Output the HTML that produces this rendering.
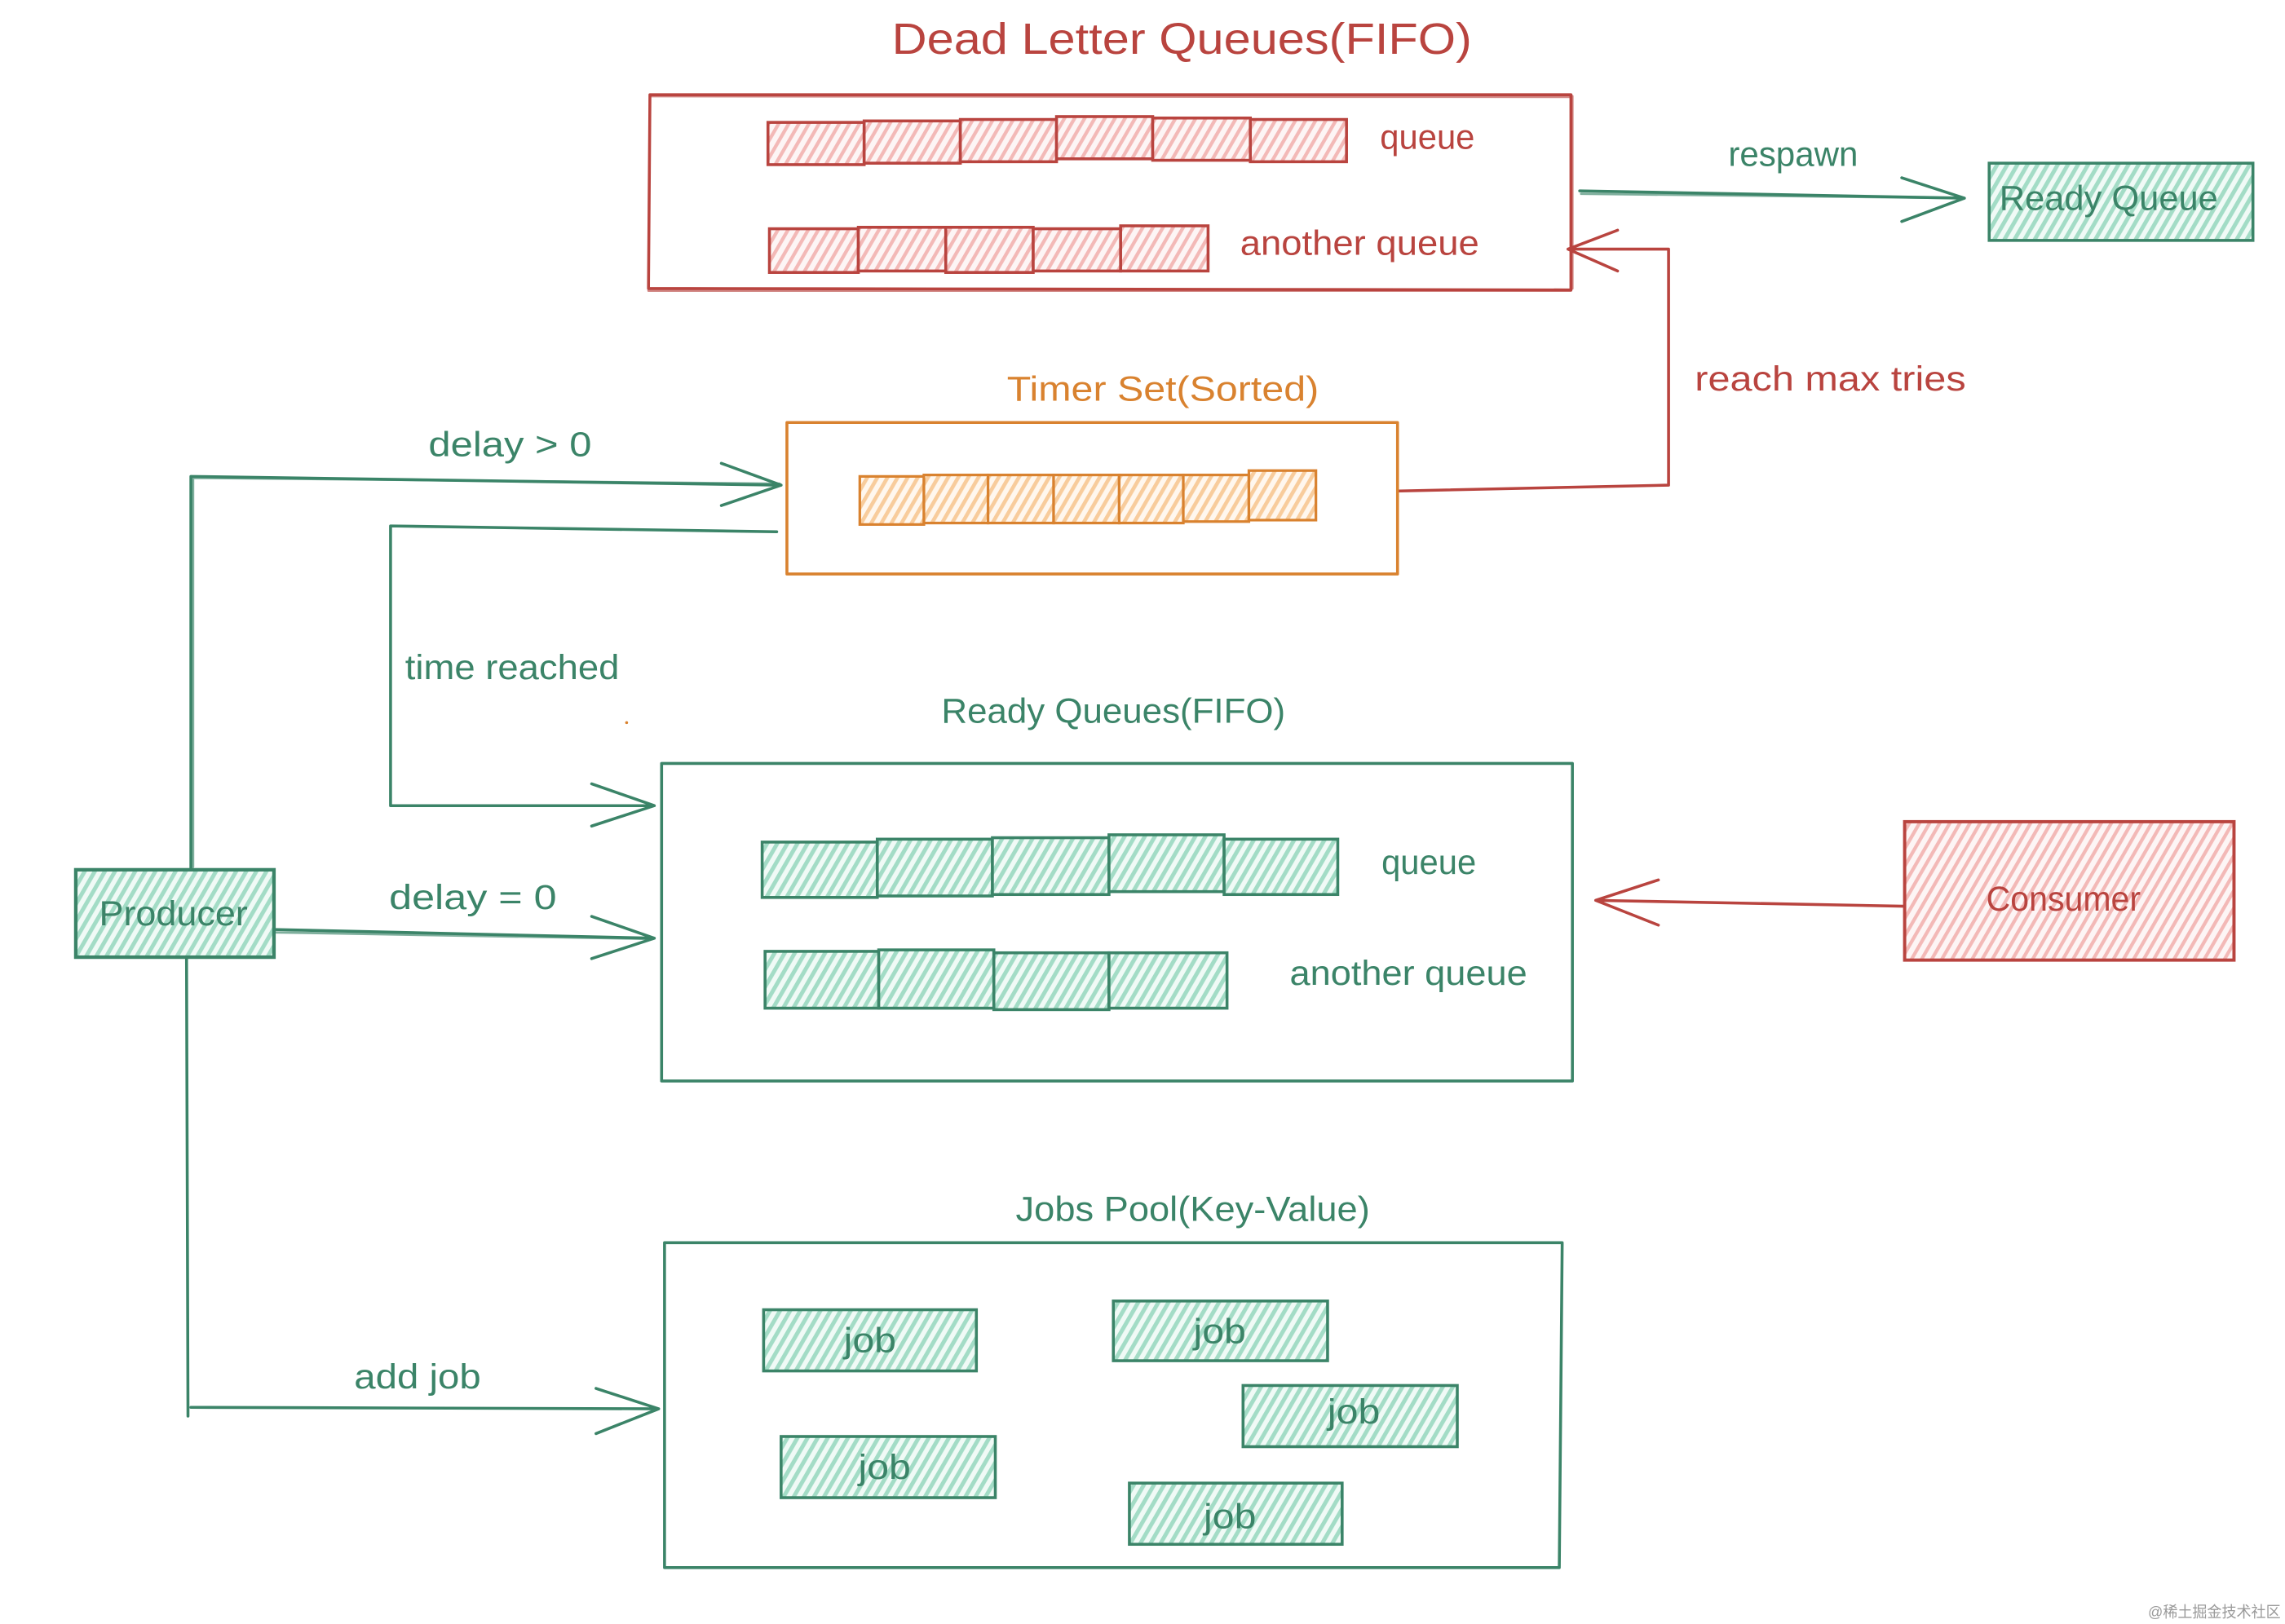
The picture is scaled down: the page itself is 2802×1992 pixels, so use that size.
<!DOCTYPE html>
<html>
<head>
<meta charset="utf-8">
<style>
html,body{margin:0;padding:0;background:#fff}
svg{display:block}
text{font-family:"Liberation Sans","Noto Sans CJK SC",sans-serif;font-size:24px}
.r{fill:#b9443f}.g{fill:#3b8468}.o{fill:#d9822f}
.lr,.lg,.lo{fill:none;stroke-linecap:round;stroke-linejoin:round}
.lr{stroke:#b9443f}.lg{stroke:#3b8468}.lo{stroke:#d9822f}
.b{stroke-width:2}.t{stroke-width:1.6;opacity:.65}
</style>
</head>
<body>
<svg width="2802" height="1992" viewBox="0 0 1568 1114.7" xmlns="http://www.w3.org/2000/svg">
<defs>
<pattern id="hr" width="6" height="6" patternUnits="userSpaceOnUse" patternTransform="rotate(30)"><rect width="6" height="6" fill="#fdf5f5"/><rect width="2.4" height="6" fill="#f3b9b7"/></pattern>
<pattern id="hg" width="6" height="6" patternUnits="userSpaceOnUse" patternTransform="rotate(30)"><rect width="6" height="6" fill="#f0faf6"/><rect width="2.8" height="6" fill="#a3dcc6"/></pattern>
<pattern id="ho" width="6" height="6" patternUnits="userSpaceOnUse" patternTransform="rotate(30)"><rect width="6" height="6" fill="#fff7ee"/><rect width="2.6" height="6" fill="#f8cc9c"/></pattern>
</defs>
<rect width="1568" height="1115" fill="#fff"/>

<!-- Dead letter -->
<text class="r" x="612" y="37" style="font-size:30px" textLength="398" lengthAdjust="spacingAndGlyphs">Dead Letter Queues(FIFO)</text>
<path class="lr b" d="M446,65 L1078,65 L1078,199 L445,198 Z"/>
<path class="lr t" d="M446,66 L1077,66.5 M1079,66 L1079,198 M445,199.5 L1078,199.5"/>
<g fill="url(#hr)" stroke="#b9443f" stroke-width="2">
<rect x="527" y="84" width="66" height="29"/><rect x="593" y="83" width="66" height="29"/><rect x="659" y="82" width="66" height="29"/><rect x="725" y="80" width="66" height="29"/><rect x="791" y="81" width="67" height="29"/><rect x="858" y="82" width="66" height="29"/>
<rect x="528" y="157" width="61" height="30"/><rect x="589" y="156" width="60" height="30"/><rect x="649" y="156" width="60" height="31"/><rect x="709" y="157" width="60" height="29"/><rect x="769" y="155" width="60" height="31"/>
</g>
<text class="r" x="947" y="102" textLength="65" lengthAdjust="spacingAndGlyphs">queue</text>
<text class="r" x="851" y="175" textLength="164" lengthAdjust="spacingAndGlyphs">another queue</text>

<text class="g" x="1186" y="114" textLength="89" lengthAdjust="spacingAndGlyphs">respawn</text>
<path class="lg b" d="M1084,131 L1348,136 M1305,122 L1348,136 L1305,152"/>
<path class="lg t" d="M1085,133 L1347,136"/>
<rect x="1365" y="112" width="181" height="53" fill="url(#hg)" stroke="#3b8468" stroke-width="2"/>
<text class="g" x="1372" y="144" textLength="150" lengthAdjust="spacingAndGlyphs">Ready Queue</text>

<!-- reach max tries -->
<path class="lr" style="stroke-width:2" d="M960,337 L1145,333 L1145,171 L1076,171 M1110,158 L1076,171 L1110,186"/>
<text class="r" x="1163" y="268" textLength="186" lengthAdjust="spacingAndGlyphs">reach max tries</text>

<!-- Timer set -->
<text class="o" x="691" y="275" textLength="214" lengthAdjust="spacingAndGlyphs">Timer Set(Sorted)</text>
<path class="lo" style="stroke-width:2" d="M540,290 L959,290 L959,394 L540,394 Z"/>
<g fill="url(#ho)" stroke="#d9822f" stroke-width="1.8">
<rect x="590" y="327" width="44" height="33"/><rect x="634" y="326" width="44" height="33"/><rect x="678" y="326" width="45" height="33"/><rect x="723" y="326" width="45" height="33"/><rect x="768" y="326" width="44" height="33"/><rect x="812" y="326" width="45" height="32"/><rect x="857" y="323" width="46" height="34"/>
</g>

<!-- delay > 0 -->
<text class="g" x="294" y="313" textLength="112" lengthAdjust="spacingAndGlyphs">delay &gt; 0</text>
<path class="lg b" d="M131,596 L131,327 L536,333 M495,318 L536,333 L495,347"/>
<path class="lg t" d="M132.5,595 L132.5,328 L535,332"/>

<!-- time reached -->
<path class="lg" style="stroke-width:2" d="M533,365 L268,361 L268,553 L449,553 M406,538 L449,553 L406,567"/>
<text class="g" x="278" y="466" textLength="147" lengthAdjust="spacingAndGlyphs">time reached</text>

<!-- Ready queues -->
<text class="g" x="646" y="496" textLength="236" lengthAdjust="spacingAndGlyphs">Ready Queues(FIFO)</text>
<path class="lg" style="stroke-width:2" d="M454,524 L1079,524 L1079,742 L454,742 Z"/>
<g fill="url(#hg)" stroke="#3b8468" stroke-width="2">
<rect x="523" y="578" width="79" height="38"/><rect x="602" y="576" width="79" height="39"/><rect x="681" y="575" width="80" height="39"/><rect x="761" y="573" width="79" height="39"/><rect x="840" y="576" width="78" height="38"/>
<rect x="525" y="653" width="78" height="39"/><rect x="603" y="652" width="79" height="40"/><rect x="682" y="654" width="79" height="39"/><rect x="761" y="654" width="81" height="38"/>
</g>
<text class="g" x="948" y="600" textLength="65" lengthAdjust="spacingAndGlyphs">queue</text>
<text class="g" x="885" y="676" textLength="163" lengthAdjust="spacingAndGlyphs">another queue</text>

<!-- Consumer -->
<rect x="1307" y="564" width="226" height="95" fill="url(#hr)" stroke="#b9443f" stroke-width="2.2"/>
<text class="r" x="1363" y="625" textLength="106" lengthAdjust="spacingAndGlyphs">Consumer</text>
<path class="lr" style="stroke-width:2" d="M1306,622 L1095,618 M1138,604 L1095,618 L1138,635"/>

<!-- Producer -->
<rect x="52" y="597" width="136" height="60" fill="url(#hg)" stroke="#3b8468" stroke-width="2.4"/>
<text class="g" x="68" y="635" textLength="102" lengthAdjust="spacingAndGlyphs">Producer</text>
<path class="lg b" d="M188,638 L449,644 M406,629 L449,644 L406,658"/>
<path class="lg t" d="M188,640 L448,644.5"/>
<text class="g" x="267" y="624" textLength="115" lengthAdjust="spacingAndGlyphs">delay = 0</text>

<!-- add job -->
<path class="lg" style="stroke-width:2" d="M128,657 L129,972 M131,966 L452,967 M409,953 L452,967 L409,984"/>
<text class="g" x="243" y="953" textLength="87" lengthAdjust="spacingAndGlyphs">add job</text>

<!-- Jobs pool -->
<text class="g" x="697" y="838" textLength="243" lengthAdjust="spacingAndGlyphs">Jobs Pool(Key-Value)</text>
<path class="lg" style="stroke-width:2" d="M456,853 L1072,853 L1070,1076 L456,1076 Z"/>
<g fill="url(#hg)" stroke="#3b8468" stroke-width="2">
<rect x="524" y="899" width="146" height="42"/><rect x="764" y="893" width="147" height="41"/><rect x="853" y="951" width="147" height="42"/><rect x="536" y="986" width="147" height="42"/><rect x="775" y="1018" width="146" height="42"/>
</g>
<text class="g" x="579" y="928" textLength="36" lengthAdjust="spacingAndGlyphs">job</text>
<text class="g" x="819" y="922" textLength="36" lengthAdjust="spacingAndGlyphs">job</text>
<text class="g" x="911" y="977" textLength="36" lengthAdjust="spacingAndGlyphs">job</text>
<text class="g" x="589" y="1015" textLength="36" lengthAdjust="spacingAndGlyphs">job</text>
<text class="g" x="826" y="1049" textLength="36" lengthAdjust="spacingAndGlyphs">job</text>

<circle cx="430" cy="496" r="1" fill="#d9822f"/>
<text x="1474" y="1110" style="font-size:10.5px" fill="#9a9a9a" textLength="91" lengthAdjust="spacingAndGlyphs">@稀土掘金技术社区</text>
</svg>
</body>
</html>
